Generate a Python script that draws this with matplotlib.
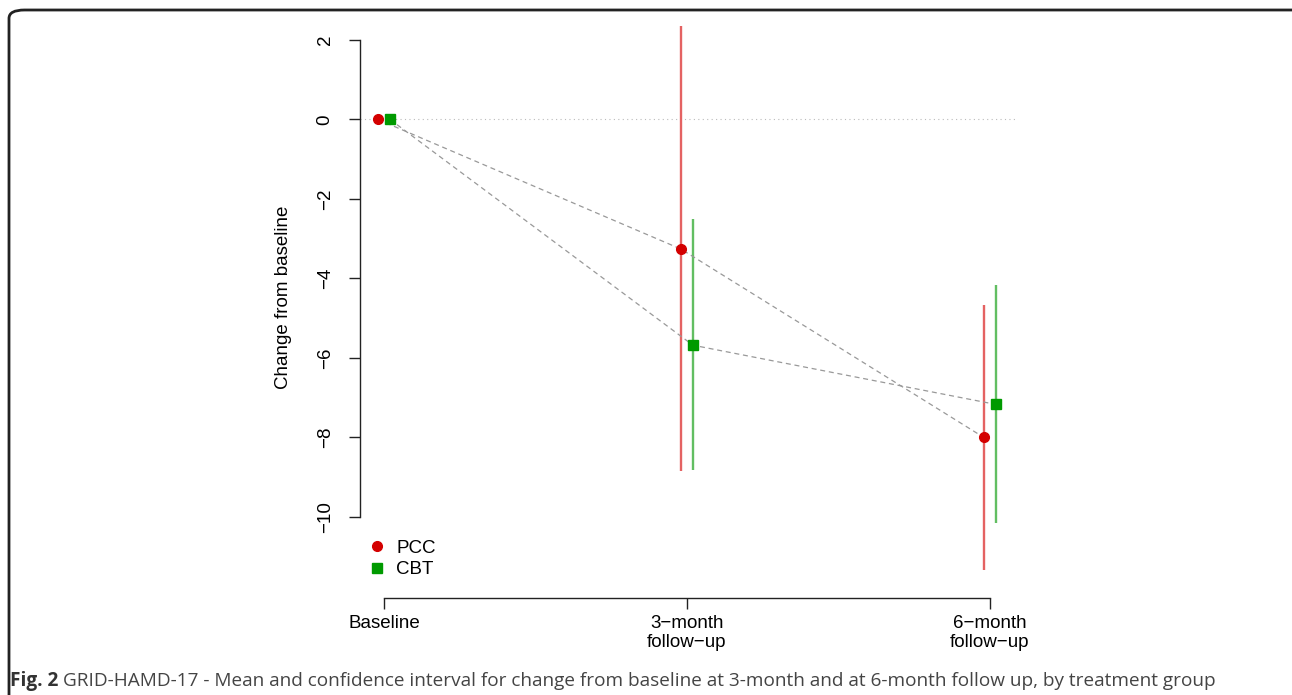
import numpy as np
import matplotlib
matplotlib.use("Agg")
import matplotlib.pyplot as plt
from matplotlib.lines import Line2D
from matplotlib.patches import FancyBboxPatch

# data
timepoints = ["Baseline", "3\u2212month\nfollow\u2212up", "6\u2212month\nfollow\u2212up"]
pcc_mean = [0.0, -3.26, -8.00]
pcc_low = [np.nan, -8.84, -11.34]
pcc_high = [np.nan, 2.35, -4.67]
cbt_mean = [0.0, -5.68, -7.17]
cbt_low = [np.nan, -8.83, -10.16]
cbt_high = [np.nan, -2.51, -4.16]
y_ticks = [2, 0, -2, -4, -6, -8, -10]

plt.rcParams["font.family"] = ["Liberation Sans", "DejaVu Sans"]

fig = plt.figure(figsize=(12.92, 6.95), dpi=100)
ax = fig.add_axes([360 / 1292, 97 / 695, 655 / 1292, 601 / 695])

x = np.arange(len(timepoints))
off = 0.02
red, green = "#D40000", "#009A00"
red_ci, green_ci = "#E46262", "#62BE62"

ax.axhline(0, color="#BBBBBB", lw=0.8, ls=(0, (1, 3)), zorder=1)

# CI bars
ax.vlines(x - off, pcc_low, pcc_high, color=red_ci, lw=1.7, zorder=2)
ax.vlines(x + off, cbt_low, cbt_high, color=green_ci, lw=1.7, zorder=2)

# dashed connecting lines
ax.plot(x - off, pcc_mean, ls=(0, (4, 3)), color="#999999", lw=0.9, zorder=3)
ax.plot(x + off, cbt_mean, ls=(0, (4, 3)), color="#999999", lw=0.9, zorder=3)

ax.plot(x - off, pcc_mean, "o", color=red, ms=7, mec=red, ls="none", zorder=4)
ax.plot(x + off, cbt_mean, "s", color=green, ms=6.5, mec=green, ls="none", zorder=4)

ax.set_xlim(-0.079, 2.083)
ax.set_ylim(-12.04, 3.08)

for s in ["top", "right"]:
    ax.spines[s].set_visible(False)
ax.spines["left"].set_bounds(-10, 2)
ax.spines["bottom"].set_bounds(0, 2)
for s in ["left", "bottom"]:
    ax.spines[s].set_color("#222222")
    ax.spines[s].set_linewidth(1.0)

ax.set_xticks(x)
ax.set_xticklabels(timepoints, fontsize=13.5, linespacing=1.15)
ax.set_yticks(y_ticks)
ax.set_yticklabels([f"{v}".replace("-", "\u2212") for v in y_ticks],
                   fontsize=13.5, rotation=90, va="center")
ax.tick_params(axis="both", length=8, width=1.0, color="#222222")
ax.tick_params(axis="x", pad=4)
ax.tick_params(axis="y", pad=11)

ax.set_ylabel("Change from baseline", fontsize=13.5)
ax.yaxis.set_label_coords((283 - 360) / 655, 0.5)
ax.yaxis.label.set_va("center")

handles = [Line2D([], [], marker="o", color=red, ls="none", ms=7),
           Line2D([], [], marker="s", color=green, ls="none", ms=6.5)]
ax.legend(handles, ["PCC", "CBT"], loc="center left", frameon=False,
          bbox_to_anchor=(370 / 1292, (695 - 559) / 695), bbox_transform=fig.transFigure,
          fontsize=13.5, handlelength=0.8, handletextpad=0.6, labelspacing=0.25,
          borderpad=0, borderaxespad=0)

# frame around the figure panel
box = FancyBboxPatch((9 / 1292, -0.1), 1.2, (695 - 10) / 695 + 0.1,
                     boxstyle="round,pad=0,rounding_size=0.012",
                     transform=fig.transFigure, fill=False, ec="#222222", lw=2.0,
                     clip_on=False)
fig.patches.append(box)

# caption
cap_y = 1 - 681 / 695
t1 = fig.text(10 / 1292, cap_y, "Fig. 2", fontsize=13.7, fontweight="bold",
              family=["Open Sans", "DejaVu Sans"], color="#333333", va="center")
fig.canvas.draw()
bb = t1.get_window_extent()
fig.text(bb.x1 / 1292 + 5 / 1292, cap_y,
         "GRID-HAMD-17 - Mean and confidence interval for change from baseline at 3-month "
         "and at 6-month follow up, by treatment group",
         fontsize=13.7, family=["Open Sans", "DejaVu Sans"], color="#444444", va="center")

fig.savefig("out.png", dpi=100)
